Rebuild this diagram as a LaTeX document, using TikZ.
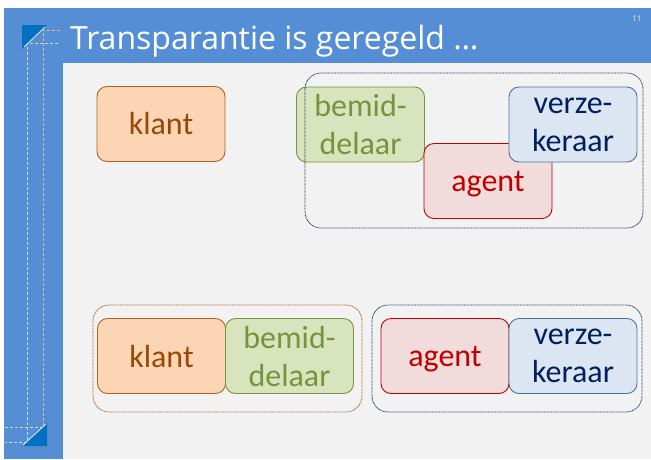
\documentclass[tikz,border=0pt]{standalone}
\usepackage{fontspec}
\setmainfont{Carlito}
\newfontfamily\titlefont{Open Sans}
\usetikzlibrary{positioning}
\definecolor{slideblue}{HTML}{558ED5}
\definecolor{panel}{HTML}{F2F2F2}
\definecolor{cornerblue}{HTML}{0070C0}
\definecolor{guideorange}{HTML}{F4B183}
\definecolor{guidelight}{HTML}{C9DAF2}
\definecolor{klantfill}{HTML}{FCD5B5}
\definecolor{klantline}{HTML}{B4621F}
\definecolor{klanttext}{HTML}{984807}
\definecolor{bemidfill}{HTML}{D7E4BD}
\definecolor{bemidline}{HTML}{77933C}
\definecolor{agentfill}{HTML}{F2DCDB}
\definecolor{agentline}{HTML}{C00000}
\definecolor{verzefill}{HTML}{DCE6F2}
\definecolor{verzeline}{HTML}{4A72A4}
\definecolor{verzetext}{HTML}{002060}
\definecolor{groupnavy}{HTML}{1F3864}
\tikzstyle{party} = [draw, rectangle, rounded corners=10pt, line width=0.9pt,
    minimum height=75pt, minimum width=128pt, align=center,
    font=\fontsize{32}{38}\selectfont]
\tikzstyle{klant} = [party, fill=klantfill, draw=klantline, text=klanttext]
\tikzstyle{bemid} = [party, fill=bemidfill, draw=bemidline, text=bemidline]
\tikzstyle{agent} = [party, fill=agentfill, draw=agentline, text=agentline, text depth=0pt]
\tikzstyle{verze} = [party, fill=verzefill, draw=verzeline, text=verzetext]
\tikzstyle{group} = [rounded corners=16pt, line width=0.8pt, dash pattern=on 0.8pt off 0.6pt]
\tikzstyle{guide} = [line width=0.8pt, dash pattern=on 3pt off 2pt]

\begin{document}
\begin{tikzpicture}[x=1pt,y=-1pt,node distance=128pt]
    \useasboundingbox (0,0) rectangle (651,459);
    % slide background
    \fill[white] (0,0) rectangle (651,459);
    \fill[slideblue] (4,8) rectangle (651,459);
    \fill[panel] (63,63) rectangle (651,459);
    % corner marks and guides
    \draw[guide, guideorange] (60,30) -- (43,30) -- (43,427);
    \draw[guide, guidelight] (58,43) -- (27,43) -- (27,442) -- (5,442);
    \draw[guide, guidelight] (5,427) -- (43,427);
    \fill[cornerblue] (22,25) -- (47,25) -- (22,49) -- cycle;
    \draw[guidelight, line width=1pt] (24,47) -- (45,27);
    \fill[cornerblue] (23,446) -- (47,423) -- (47,446) -- cycle;
    \draw[guidelight, line width=1pt] (23,445) -- (46,424);
    \node[anchor=base west, inner xsep=0pt, text=white, font=\titlefont\fontsize{32}{38}\selectfont] (title) at (70,49) {Transparantie is geregeld \dots};
    \node[anchor=base east, text=white!85!slideblue, font=\titlefont\fontsize{8}{9}\selectfont] (pagenr) at (645,21) {11};
    % top: separate parties
    \node[klant] (klant) at (161,124) {klant};
    \node[bemid] (bemid) at (360.5,124.5) {bemid-\\delaar};
    \node[agent] (agent) at (488,181) {agent};
    \node[verze] (verze) at (573,124.5) {verze-\\keraar};
    \draw[group, groupnavy] (305,73) rectangle (643,228);
    % bottom: two pairs
    \node[klant] (klant2) at (161.5,356) {klant};
    \node[bemid, right of=klant2] (bemid2) {bemid-\\delaar};
    \node[agent] (agent2) at (445,356) {agent};
    \node[verze, right of=agent2] (verze2) {verze-\\keraar};
    \draw[group, klantline] (93,305) rectangle (362,412);
    \draw[group, groupnavy] (372,305) rectangle (642,412);
\end{tikzpicture}
\end{document}
